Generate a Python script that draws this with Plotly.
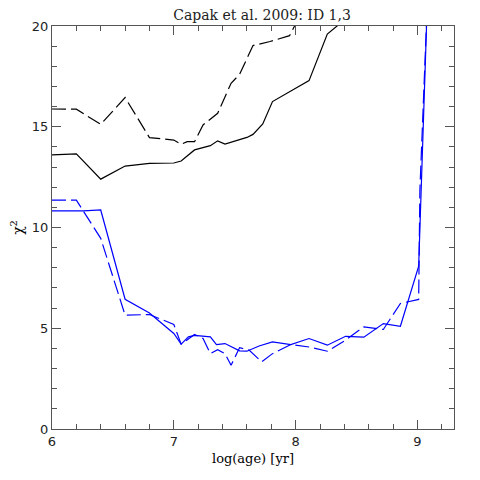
import plotly.graph_objects as go

# black solid
age_k1 = [6.0, 6.2, 6.4, 6.6, 6.8, 7.0, 7.06, 7.17, 7.3, 7.36, 7.42, 7.54, 7.6, 7.65, 7.73, 7.81, 8.11, 8.26, 8.36]
chi_k1 = [13.6, 13.65, 12.4, 13.05, 13.18, 13.2, 13.3, 13.85, 14.06, 14.3, 14.14, 14.37, 14.47, 14.62, 15.14, 16.25, 17.29, 19.6, 20.1]

# black dashed
age_k2 = [6.0, 6.2, 6.4, 6.6, 6.8, 7.0, 7.06, 7.11, 7.17, 7.24, 7.36, 7.47, 7.54, 7.58, 7.65, 7.79, 7.95, 8.0]
chi_k2 = [15.88, 15.87, 15.12, 16.45, 14.46, 14.34, 14.13, 14.26, 14.26, 15.09, 15.67, 17.16, 17.6, 18.15, 19.03, 19.23, 19.52, 20.1]

# blue solid
age_b1 = [6.0, 6.26, 6.4, 6.6, 6.8, 7.0, 7.06, 7.12, 7.17, 7.3, 7.35, 7.42, 7.54, 7.6, 7.7, 7.81, 7.96, 8.11, 8.26, 8.41, 8.56, 8.72, 8.86, 9.01, 9.08]
chi_b1 = [10.83, 10.83, 10.87, 6.44, 5.76, 4.74, 4.21, 4.57, 4.65, 4.57, 4.19, 4.24, 3.88, 3.86, 4.12, 4.32, 4.19, 4.49, 4.16, 4.6, 4.56, 5.23, 5.1, 8.08, 21.0]

# blue dashed
age_b2 = [6.0, 6.2, 6.4, 6.6, 6.8, 7.0, 7.06, 7.17, 7.24, 7.3, 7.36, 7.42, 7.47, 7.54, 7.62, 7.72, 7.81, 7.96, 8.11, 8.26, 8.41, 8.56, 8.72, 8.86, 9.01, 9.02, 9.08]
chi_b2 = [11.36, 11.36, 9.46, 5.65, 5.68, 5.19, 4.21, 4.69, 4.49, 3.74, 3.94, 3.74, 3.16, 4.04, 3.91, 3.33, 3.74, 4.19, 4.07, 3.86, 4.41, 5.07, 4.94, 6.23, 6.43, 11.86, 21.0]

serif = "DejaVu Serif"
sans = "DejaVu Sans"
dash = "14px,5px"
frame = "#555555"

fig = go.Figure()
fig.add_trace(go.Scatter(x=age_k1, y=chi_k1, mode="lines", line=dict(color="black", width=1.2)))
fig.add_trace(go.Scatter(x=age_k2, y=chi_k2, mode="lines", line=dict(color="black", width=1.2, dash=dash)))
fig.add_trace(go.Scatter(x=age_b1, y=chi_b1, mode="lines", line=dict(color="#0000ff", width=1.2)))
fig.add_trace(go.Scatter(x=age_b2, y=chi_b2, mode="lines", line=dict(color="#0000ff", width=1.2, dash=dash)))

axis_common = dict(
    showline=True, linecolor=frame, linewidth=1.2, mirror="ticks",
    ticks="inside", tickcolor=frame, tickwidth=1, ticklen=9,
    showgrid=False, zeroline=False, automargin=False,
    tickfont=dict(family=sans, size=13, color="#222222"),
)
fig.update_xaxes(range=[6, 9.3], tick0=6, dtick=1,
                 minor=dict(dtick=0.2, ticks="inside", ticklen=5, tickcolor=frame, showgrid=False),
                 title=dict(text="log(age) [yr]", font=dict(family=serif, size=13, color="black"), standoff=6),
                 **axis_common)
fig.update_yaxes(range=[0, 20], tick0=0, dtick=5,
                 minor=dict(dtick=1, ticks="inside", ticklen=5, tickcolor=frame, showgrid=False),
                 title=dict(text="χ<sup>2</sup>", font=dict(family=serif, size=14, color="black"), standoff=13),
                 **axis_common)
# the page adds an 8px body margin, so the margins are shifted to compensate
fig.update_layout(
    width=480, height=480,
    margin=dict(l=44, r=34, t=18, b=59, autoexpand=False),
    plot_bgcolor="white", paper_bgcolor="white",
    showlegend=False,
    title=dict(text="Capak et al. 2009: ID 1,3", x=254 / 480, xanchor="center", y=0.996, yanchor="top",
               font=dict(family=serif, size=14, color="#222222")),
)
fig.write_html("out.html")
